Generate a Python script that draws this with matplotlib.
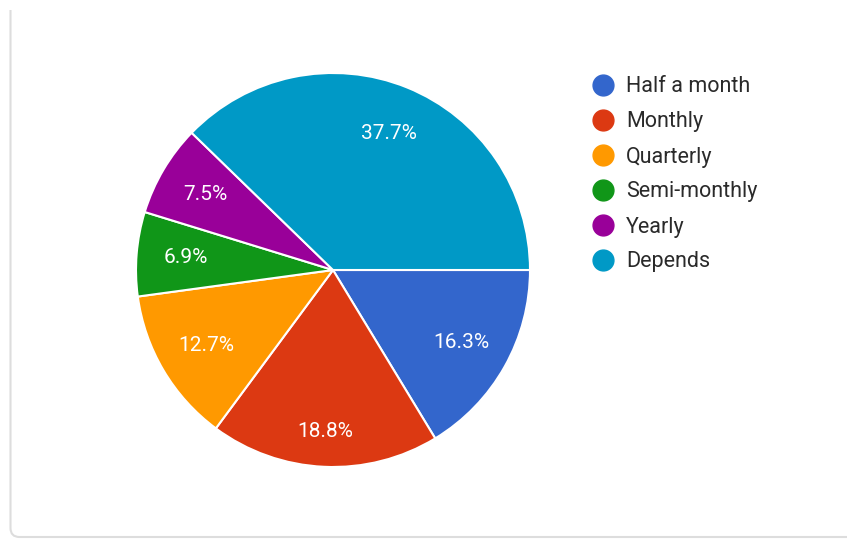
import numpy as np
import matplotlib.pyplot as plt
from matplotlib.patches import FancyBboxPatch, Rectangle

plt.rcParams['font.family'] = ['Roboto', 'DejaVu Sans']

labels = ["Half a month", "Monthly", "Quarterly", "Semi-monthly", "Yearly", "Depends"]
shares = [16.3, 18.8, 12.7, 6.9, 7.5, 37.7]
colors = ["#3366cc", "#dc3912", "#ff9900", "#109618", "#990099", "#0099c6"]

W, H = 847, 539
fig = plt.figure(figsize=(W/100, H/100), dpi=100)
fig.patch.set_facecolor("white")

# card outline in pixel coords
bg = fig.add_axes([0, 0, 1, 1])
bg.set_xlim(0, W)
bg.set_ylim(H, 0)
bg.axis("off")
card = FancyBboxPatch((10.5, -40), 1000, 577, boxstyle="round,pad=0,rounding_size=9",
                      fc="white", ec="#dddddd", lw=1.5)
bg.add_patch(card)
card.set_clip_path(Rectangle((0, 10), W, H, transform=bg.transData))

cx, cy, r = 333, 270, 197
ax = fig.add_axes([(cx-r)/W, (H-cy-r)/H, 2*r/W, 2*r/H])
wedges, texts, autotexts = ax.pie(shares, colors=colors, startangle=0, counterclock=False,
                                  autopct="%.1f%%", pctdistance=0.75,
                                  wedgeprops=dict(edgecolor="white", linewidth=1.5),
                                  textprops=dict(color="white", fontsize=15))
# push the bottom label a little further out
w = wedges[1]
mid = np.deg2rad((w.theta1 + w.theta2) / 2)
autotexts[1].set_position((0.82*np.cos(mid), 0.82*np.sin(mid)))
ax.set_xlim(-1, 1)
ax.set_ylim(-1, 1)
ax.set_aspect("equal")

# legend: dot + label per row
for i, (lab, c) in enumerate(zip(labels, colors)):
    y = 85 + 35*i
    bg.scatter([603], [y], s=225, color=c, zorder=3)
    bg.text(626, y + 2, lab, va="center", ha="left", fontsize=15.5, color="#2a2a2a")

fig.savefig("out.png", dpi=100)
